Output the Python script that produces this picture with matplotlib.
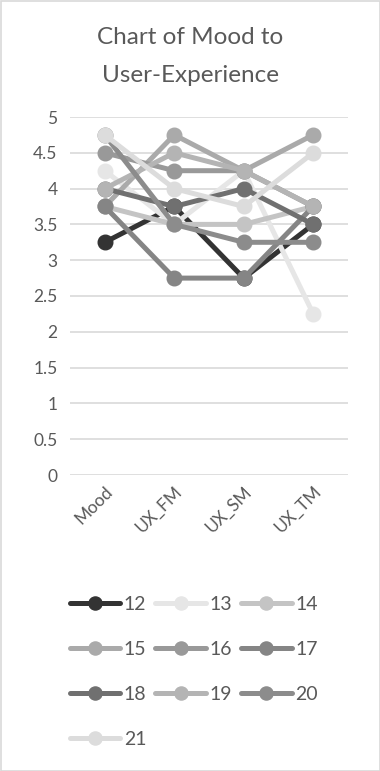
import matplotlib
matplotlib.use('Agg')
import matplotlib.pyplot as plt
from matplotlib.patches import Rectangle

plt.rcParams['font.family'] = ['Lato', 'DejaVu Sans']

# Data
categories = ['Mood', 'UX_FM', 'UX_SM', 'UX_TM']
participants = ['12', '13', '14', '15', '16', '17', '18', '19', '20', '21']
s12 = [3.25, 3.75, 2.75, 3.5]
s13 = [4.25, 3.5, 4.25, 2.25]
s14 = [3.75, 3.5, 3.5, 3.75]
s15 = [3.75, 4.75, 4.25, 4.75]
s16 = [4.5, 4.25, 4.25, 3.75]
s17 = [3.75, 2.75, 2.75, 3.75]
s18 = [4.0, 3.75, 4.0, 3.5]
s19 = [4.0, 4.5, 4.25, 3.75]
s20 = [4.75, 3.5, 3.25, 3.25]
s21 = [4.75, 4.0, 3.75, 4.5]
series = [s12, s13, s14, s15, s16, s17, s18, s19, s20, s21]
colors = ['#333333', '#e6e6e6', '#c4c4c4', '#aaaaaa', '#999999',
          '#858585', '#707070', '#b4b4b4', '#8c8c8c', '#dcdcdc']

text_col = '#595959'

fig = plt.figure(figsize=(3.8, 7.71), dpi=100)
ax = fig.add_axes([70 / 380, 1 - 475 / 771, 278 / 380, 358 / 771])

x = range(len(categories))
lines = []
for name, vals, c in zip(participants, series, colors):
    ln, = ax.plot(x, vals, color=c, lw=3.6, marker='o', markersize=10.5,
                  solid_capstyle='round', label=name)
    lines.append(ln)

ax.set_xlim(-0.5, 3.5)
ax.set_ylim(0, 5)
ax.set_yticks([0, 0.5, 1, 1.5, 2, 2.5, 3, 3.5, 4, 4.5, 5])
ax.set_yticklabels(['0', '0.5', '1', '1.5', '2', '2.5', '3', '3.5', '4', '4.5', '5'])
ax.set_xticks(list(x))
ax.set_xticklabels(categories, rotation=45, ha='right', rotation_mode='anchor')
ax.tick_params(length=0, labelsize=12.5, colors=text_col, pad=9)
ax.tick_params(axis='x', pad=6)
ax.grid(axis='y', color='#d9d9d9', lw=1.2)
ax.set_axisbelow(True)
for sp in ax.spines.values():
    sp.set_visible(False)

fig.text(0.5, 1 - 38 / 771, 'Chart of Mood to', ha='center', va='center',
         fontsize=17.5, color=text_col)
fig.text(0.5, 1 - 75 / 771, 'User-Experience', ha='center', va='center',
         fontsize=17.5, color=text_col)

# legend fills row by row like the original, so reorder for column-major layout
order = [0, 3, 6, 9, 1, 4, 7, 2, 5, 8]
leg = fig.legend([lines[i] for i in order], [participants[i] for i in order],
                 loc='upper left', bbox_to_anchor=(52 / 380, 1 - 578 / 771),
                 ncol=3, frameon=False, fontsize=14, handlelength=2.6,
                 handletextpad=0.2, columnspacing=0.45, labelspacing=1.45,
                 markerscale=0.9)
for t in leg.get_texts():
    t.set_color(text_col)

fig.patches.append(Rectangle((0.5 / 380, 0.5 / 771), 1 - 1 / 380, 1 - 1 / 771,
                             transform=fig.transFigure, fill=False,
                             edgecolor='#d9d9d9', lw=1.2))

fig.savefig('out.png', dpi=100)
